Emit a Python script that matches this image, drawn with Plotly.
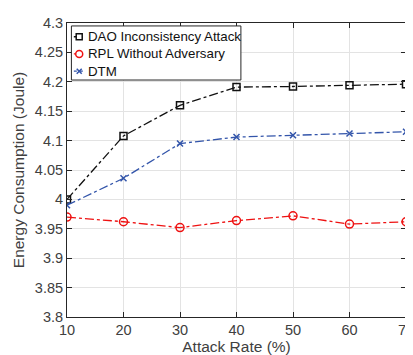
import plotly.graph_objects as go

attack_rate = [10, 20, 30, 40, 50, 60, 70]
dao_attack = [4.000, 4.108, 4.160, 4.191, 4.192, 4.194, 4.196]
rpl_no_adv = [3.970, 3.962, 3.952, 3.964, 3.972, 3.958, 3.962]
dtm = [3.990, 4.036, 4.095, 4.106, 4.109, 4.112, 4.115]
series_names = ["DAO Inconsistency Attack", "RPL Without Adversary", "DTM"]
y_ticks = [3.8, 3.85, 3.9, 3.95, 4.0, 4.05, 4.1, 4.15, 4.2, 4.25, 4.3]
y_tick_text = ["3.8", "3.85", "3.9", "3.95", "4", "4.05", "4.1", "4.15", "4.2", "4.25", "4.3"]
x_ticks = [10, 20, 30, 40, 50, 60, 70]

BLACK, RED, BLUE = "#111111", "#EE1111", "#3355AA"
FONT = "Liberation Sans, Arial"

fig = go.Figure()
fig.add_trace(go.Scatter(
    x=attack_rate, y=dao_attack, name=series_names[0], mode="lines+markers",
    line=dict(color=BLACK, width=1.3, dash="dashdot"),
    marker=dict(symbol="square-open", size=7, color=BLACK, line=dict(width=1.5))))
fig.add_trace(go.Scatter(
    x=attack_rate, y=rpl_no_adv, name=series_names[1], mode="lines+markers",
    line=dict(color=RED, width=1.3, dash="dashdot"),
    marker=dict(symbol="circle-open", size=8, color=RED, line=dict(width=1.5))))
fig.add_trace(go.Scatter(
    x=attack_rate, y=dtm, name=series_names[2], mode="lines+markers",
    line=dict(color=BLUE, width=1.3, dash="dashdot"),
    marker=dict(symbol="x-thin-open", size=6, color=BLUE, line=dict(width=1.5, color=BLUE))))

axis_common = dict(
    showline=True, linecolor="#262626", linewidth=1, mirror="ticks",
    ticks="inside", ticklen=5, tickcolor="#262626",
    showgrid=True, gridcolor="#E3E3E3", gridwidth=1, zeroline=False,
    tickfont=dict(family=FONT, size=14.5, color="#404040"),
    ticklabeloverflow="allow",
)
fig.update_xaxes(range=[10, 70], tickvals=x_ticks, ticklabelstandoff=0,
                 title=dict(text="Attack Rate (%)", font=dict(family=FONT, size=15.5, color="#404040"), standoff=1),
                 **axis_common)
fig.update_yaxes(range=[3.8, 4.3], tickvals=y_ticks, ticktext=y_tick_text,
                 title=dict(text="Energy Consumption (Joule)", font=dict(family=FONT, size=15.5, color="#404040"), standoff=6),
                 **axis_common)

# Manual MATLAB-style legend (plot area: x 59..406, y 10..309 px)
L, T, W, H = 59, 10, 347, 299
def px(x):
    return (x - L) / W
def py(y):
    return (T + H - y) / H

shapes = [dict(type="rect", xref="paper", yref="paper",
               x0=px(63.5), x1=px(237), y0=py(68), y1=py(13),
               line=dict(color="#262626", width=1), fillcolor="white", layer="above")]
rows = [24, 41.5, 59]
colors = [BLACK, RED, BLUE]
annotations = []
for i, (ry, c, name) in enumerate(zip(rows, colors, series_names)):
    shapes.append(dict(type="line", xref="paper", yref="paper",
                       x0=px(66), x1=px(77), y0=py(ry), y1=py(ry),
                       line=dict(color=c, width=1.3, dash="dot"), layer="above"))
    if i == 0:
        shapes.append(dict(type="rect", xref="paper", yref="paper",
                           xsizemode="pixel", ysizemode="pixel",
                           xanchor=px(71.5), yanchor=py(ry),
                           x0=-3, x1=3, y0=-3, y1=3,
                           line=dict(color=c, width=1.5), fillcolor="white", layer="above"))
    elif i == 1:
        shapes.append(dict(type="circle", xref="paper", yref="paper",
                           xsizemode="pixel", ysizemode="pixel",
                           xanchor=px(71.5), yanchor=py(ry),
                           x0=-3.5, x1=3.5, y0=-3.5, y1=3.5,
                           line=dict(color=c, width=1.5), fillcolor="white", layer="above"))
    else:
        for (a, b) in [(-2.5, 2.5), (2.5, -2.5)]:
            shapes.append(dict(type="line", xref="paper", yref="paper",
                               xsizemode="pixel", ysizemode="pixel",
                               xanchor=px(71.5), yanchor=py(ry),
                               x0=-2.5, x1=2.5, y0=a, y1=b,
                               line=dict(color=c, width=1.5), layer="above"))
    annotations.append(dict(xref="paper", yref="paper", x=px(78.5), y=py(ry),
                            xanchor="left", yanchor="middle", showarrow=False,
                            text=name, font=dict(family=FONT, size=13.3, color="#111111")))

fig.update_layout(
    width=413, height=355,
    margin=dict(l=59, r=7, t=10, b=46),
    plot_bgcolor="white", paper_bgcolor="white",
    showlegend=False,
    shapes=shapes, annotations=annotations,
)
fig.write_html("out.html")
